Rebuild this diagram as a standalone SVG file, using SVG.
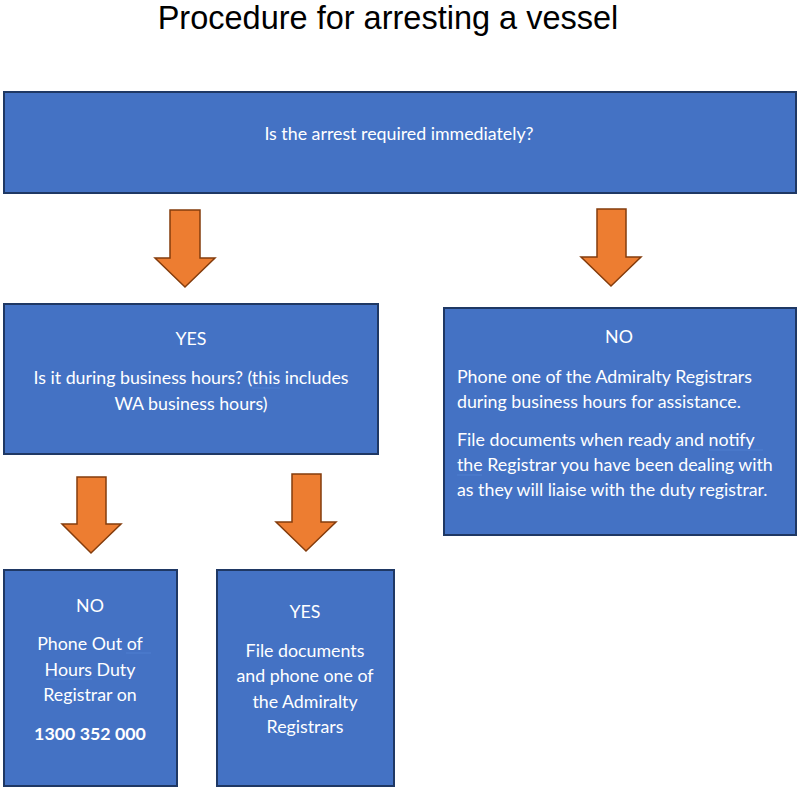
<svg xmlns="http://www.w3.org/2000/svg" width="800" height="790" viewBox="0 0 800 790">
<style>
.box{fill:#4472C4;stroke:#1F3864;stroke-width:2}
.arrow{fill:#ED7D31;stroke:#843C0C;stroke-width:1.5}
.t{font-family:Lato,"Open Sans","Liberation Sans",sans-serif;font-size:17.8px;fill:#FFFFFF}
.c{text-anchor:middle}
.b{font-weight:bold}
.title{font-family:"Liberation Sans",Arial,sans-serif;font-size:32.5px;fill:#000000;text-anchor:middle}
.sq{stroke:#4F7FD0;stroke-width:1;fill:none}
</style>
<rect width="800" height="790" fill="#FFFFFF"/>
<text class="title" x="388" y="29">Procedure for arresting a vessel</text>

<g id="n-top">
<rect class="box" x="4" y="92" width="792" height="101"/>
<text class="t c" x="399" y="140">Is the arrest required immediately?</text>
</g>

<g id="n-yes1">
<rect class="box" x="4" y="304" width="374" height="150"/>
<text class="t c" x="191" y="345">YES</text>
<text class="t c" x="191" y="384">Is it during business hours? (this includes</text>
<text class="t c" x="191" y="410">WA business hours)</text>
</g>

<g id="n-no1">
<rect class="box" x="444" y="308" width="352" height="227"/>
<text class="t c" x="619" y="343">NO</text>
<text class="t" x="457" y="383">Phone one of the Admiralty Registrars</text>
<text class="t" x="457" y="408">during business hours for assistance.</text>
<text class="t" x="457" y="446">File documents when ready and notify</text>
<text class="t" x="457" y="471">the Registrar you have been dealing with</text>
<text class="t" x="457" y="496">as they will liaise with the duty registrar.</text>
</g>

<g id="n-no2">
<rect class="box" x="4" y="570" width="173" height="216"/>
<text class="t c" x="90" y="612">NO</text>
<text class="t c" x="90" y="650">Phone Out of</text>
<text class="t c" x="90" y="676">Hours Duty</text>
<text class="t c" x="90" y="701">Registrar on</text>
<text class="t c b" x="90" y="740">1300 352 000</text>
</g>

<g id="n-yes2">
<rect class="box" x="217" y="570" width="177" height="216"/>
<text class="t c" x="305" y="618">YES</text>
<text class="t c" x="305" y="657">File documents</text>
<text class="t c" x="305" y="682">and phone one of</text>
<text class="t c" x="305" y="708">the Admiralty</text>
<text class="t c" x="305" y="733">Registrars</text>
</g>

<g id="connectors">
<polygon class="arrow" points="170,210 200,210 200,258 215,258 185,287 155,258 170,258"/>
<polygon class="arrow" points="597,209 626,209 626,257 641,257 611,286 581,257 597,257"/>
<polygon class="arrow" points="77,477 106,477 106,524 121,524 91,553 62,524 77,524"/>
<polygon class="arrow" points="292,474 321,474 321,522 336,522 306,551 276,522 292,522"/>
</g>

<g id="squiggles">
<line class="sq" x1="252" y1="388" x2="280" y2="388"/>
<line class="sq" x1="709" y1="450" x2="763" y2="450"/>
<line class="sq" x1="457" y1="475" x2="482" y2="475"/>
<line class="sq" x1="126" y1="653" x2="151" y2="653"/>
<line class="sq" x1="47" y1="679" x2="92" y2="679"/>
</g>
</svg>
